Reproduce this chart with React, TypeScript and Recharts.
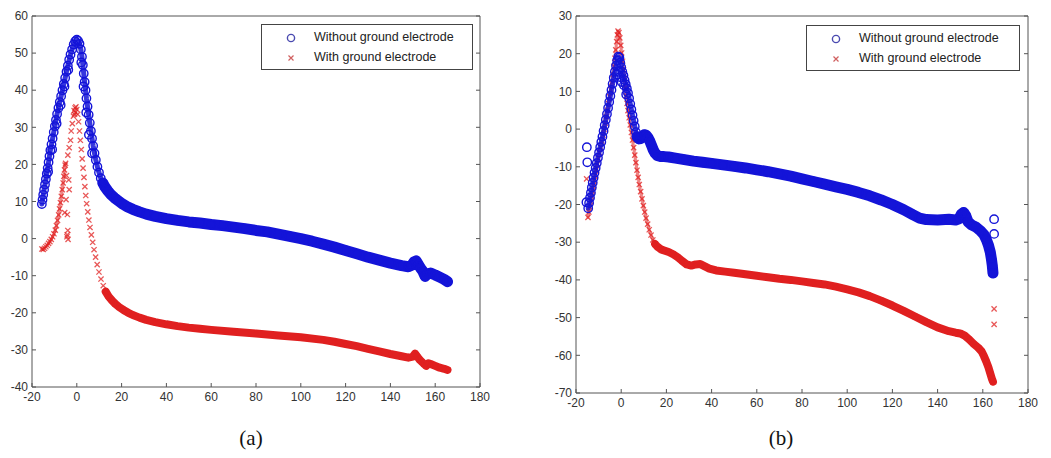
import React from 'react';
import { ScatterChart, Scatter, XAxis, YAxis } from 'recharts';

type Pt = [number, number];

const X_TICKS = [-20, 0, 20, 40, 60, 80, 100, 120, 140, 160, 180];
const A_Y_TICKS = [-40, -30, -20, -10, 0, 10, 20, 30, 40, 50, 60];
const B_Y_TICKS = [-70, -60, -50, -40, -30, -20, -10, 0, 10, 20, 30];

const LEGEND_LABELS = ['Without ground electrode', 'With ground electrode'];
const PANEL_LABELS = ['(a)', '(b)'];

// ---- panel (a) ----
const aWithoutPeak: Pt[] = [
  [-15.6, 9.3], [-15.3, 10.5], [-15.0, 11.8], [-14.6, 13.2], [-14.2, 14.6], [-13.8, 16.0], [-13.4, 17.5],
  [-13.0, 19.0], [-12.6, 20.6], [-12.2, 22.2], [-11.8, 23.8], [-11.3, 25.4], [-10.8, 27.0], [-10.3, 28.7],
  [-9.8, 30.3], [-9.3, 32.0], [-8.8, 33.6], [-8.2, 35.2], [-7.6, 36.8], [-7.0, 38.4], [-6.4, 40.0],
  [-5.8, 41.7], [-5.2, 43.3], [-4.6, 45.0], [-4.0, 46.6], [-3.4, 48.2], [-2.8, 49.6], [-2.1, 51.0],
  [-1.4, 52.3], [-0.7, 53.2], [0.0, 53.6], [0.6, 53.3], [1.2, 52.5], [1.8, 51.0], [2.3, 49.0],
  [2.7, 46.8], [3.1, 44.5], [3.5, 42.2], [3.9, 40.0], [4.3, 37.8], [4.8, 35.6], [5.3, 33.4],
  [5.8, 31.2], [6.3, 29.0], [6.8, 27.0], [7.3, 25.0], [7.9, 23.0], [8.5, 21.2], [9.2, 19.4],
  [9.9, 17.8], [10.7, 16.3], [11.6, 15.0],
];
const aWithoutLoose: Pt[] = [
  [-12.8, 18.0], [-11.0, 24.0], [-9.0, 31.0], [-7.2, 36.0], [-5.5, 41.0], [-3.8, 45.5],
  [2.0, 47.5], [3.0, 41.0], [4.2, 34.0], [5.4, 28.0], [6.8, 23.0],
];
const aWithoutTail: Pt[] = [
  [11.6, 15.0], [12.6, 13.9], [13.8, 12.9], [15.2, 11.9], [16.8, 11.0], [18.5, 10.2], [20.5, 9.3],
  [22.5, 8.6], [25, 7.9], [28, 7.2], [31, 6.6], [35, 6.0], [40, 5.4], [45, 4.9], [50, 4.5], [55, 4.2],
  [60, 3.8], [65, 3.5], [70, 3.1], [75, 2.7], [80, 2.2], [85, 1.8], [90, 1.2], [95, 0.6], [100, 0.0],
  [105, -0.7], [110, -1.5], [115, -2.3], [120, -3.2], [125, -4.1], [130, -5.0], [135, -5.8], [140, -6.6],
  [145, -7.3], [148, -7.6], [149.5, -7.2], [150.5, -6.3], [151.5, -6.0], [152.5, -7.0], [153.5, -8.0],
  [154.5, -8.8], [155.5, -10.2], [156.5, -9.5], [158, -9.3], [160, -9.8], [162, -10.4], [164, -11.0],
  [165.5, -11.6],
];
const aWithPeak: Pt[] = [
  [-15.6, -2.8], [-15.0, -2.9], [-14.4, -2.6], [-13.8, -2.2], [-13.2, -1.8], [-12.6, -1.3], [-12.0, -0.8],
  [-11.4, -0.2], [-10.8, 0.5], [-10.2, 1.3], [-9.6, 2.3], [-9.1, 3.5], [-8.6, 4.9], [-8.1, 6.4],
  [-7.7, 8.0], [-7.3, 9.7], [-6.9, 11.4], [-6.5, 13.2], [-6.1, 15.0], [-5.8, 16.8], [-5.5, 18.5],
  [-5.2, 19.8], [-5.0, 20.3],
];
const aWithLoose: Pt[] = [
  [-4.6, 17.0], [-3.6, 15.8], [-3.4, 13.2], [-4.8, 10.5], [-5.4, 7.0], [-4.2, 6.5], [-4.0, 2.2],
  [-4.3, 1.0], [-3.9, -0.2], [-4.4, 0.5], [-4.0, 22.5], [-3.4, 24.5], [-2.8, 26.5], [-2.5, 29.0],
  [-2.0, 31.0], [-1.5, 33.0], [-1.2, 34.5], [-0.8, 35.2], [-0.4, 35.5], [0.0, 34.8], [-0.6, 34.0],
  [-1.0, 33.5],
  [0.4, 33.5], [0.8, 31.5], [1.2, 29.0], [1.6, 26.5], [2.0, 24.0], [2.4, 21.5], [2.8, 19.0],
  [3.2, 16.5], [3.6, 14.0], [4.0, 11.6], [4.4, 9.4], [4.9, 7.2], [5.4, 5.0], [5.9, 3.0], [6.5, 1.0],
  [7.1, -1.0], [7.7, -3.0], [8.4, -5.0], [9.1, -7.0], [9.9, -9.0], [10.8, -10.9], [11.8, -12.7],
  [12.9, -14.3],
];
const aWithTail: Pt[] = [
  [12.9, -14.3], [14.2, -15.6], [15.6, -16.6], [17.2, -17.6], [19, -18.5], [21, -19.3], [23, -20.0],
  [25, -20.6], [28, -21.3], [31, -21.9], [35, -22.5], [40, -23.1], [45, -23.6], [50, -24.0], [55, -24.3],
  [60, -24.6], [70, -25.1], [80, -25.6], [90, -26.1], [100, -26.6], [110, -27.3], [115, -27.8],
  [120, -28.4], [125, -29.0], [130, -29.7], [135, -30.4], [140, -31.1], [145, -31.7], [148, -32.1],
  [150, -31.8], [151, -31.0], [152, -31.8], [153, -32.6], [154, -33.2], [155, -33.8], [156, -34.3],
  [157, -33.6], [158, -33.8], [160, -34.3], [162, -34.8], [164, -35.1], [165.5, -35.4],
];

// ---- panel (b) ----
const bWithoutPeak: Pt[] = [
  [-14.6, -21.0], [-14.2, -19.6], [-13.8, -18.2], [-13.4, -16.9], [-13.0, -15.5], [-12.6, -14.2],
  [-12.2, -12.9], [-11.8, -11.6], [-11.3, -10.3], [-10.8, -9.0], [-10.3, -7.6], [-9.8, -6.2],
  [-9.3, -4.8], [-8.8, -3.4], [-8.3, -2.0], [-7.8, -0.5], [-7.3, 1.0], [-6.8, 2.5], [-6.3, 4.0],
  [-5.8, 5.6], [-5.3, 7.2], [-4.8, 8.8], [-4.3, 10.4], [-3.8, 12.0], [-3.3, 13.6], [-2.8, 15.2],
  [-2.3, 16.8], [-1.8, 18.2], [-1.3, 19.2], [-0.8, 19.0], [-0.4, 17.6], [0.0, 16.4], [0.5, 15.2],
  [1.0, 14.2], [1.5, 13.0], [2.0, 11.9], [2.5, 10.8], [3.0, 9.6], [3.5, 8.2], [4.0, 6.7], [4.5, 5.2],
  [5.0, 3.7], [5.5, 2.2], [6.0, 0.7], [6.5, -0.8], [7.0, -2.0],
];
const bWithoutLoose: Pt[] = [
  [-15.2, -4.8], [-15.0, -8.8], [-15.4, -19.4],
  [-2.0, 14.5], [-1.2, 15.2], [-0.6, 13.8], [0.2, 12.5], [1.2, 11.6], [2.2, 9.2],
  [165, -23.9], [165, -27.8],
];
const bWithoutTail: Pt[] = [
  [7.0, -2.0], [7.8, -2.6], [8.6, -2.5], [9.4, -1.9], [10.2, -1.5], [11.0, -1.6], [11.8, -2.2],
  [12.6, -3.1], [13.4, -4.3], [14.2, -5.5], [15.0, -6.4], [16.0, -7.0], [17.5, -7.3], [19, -7.3],
  [21, -7.4], [24, -7.7], [28, -8.1], [32, -8.5], [36, -8.8], [40, -9.1], [45, -9.5], [50, -9.9],
  [55, -10.3], [60, -10.8], [65, -11.3], [70, -11.9], [75, -12.5], [80, -13.2], [85, -13.9],
  [90, -14.6], [95, -15.3], [100, -16.0], [105, -16.8], [110, -17.7], [115, -18.8], [120, -20.0],
  [125, -21.4], [129, -22.7], [132, -23.6], [135, -24.0], [140, -24.1], [145, -23.9], [148, -24.1],
  [149.5, -23.8], [150.5, -22.6], [151.5, -22.1], [152.5, -23.0], [153.5, -24.6], [155, -25.4],
  [157, -26.0], [159, -27.0], [160.5, -28.0], [161.5, -29.2], [162.5, -30.8], [163.3, -32.6],
  [163.8, -34.4], [164.2, -36.2], [164.5, -38.2],
];
const bWithPeak: Pt[] = [
  [-14.7, -23.4], [-14.3, -22.0], [-13.9, -20.6], [-13.5, -19.2], [-13.1, -17.8], [-12.7, -16.4],
  [-12.3, -15.0], [-11.9, -13.6], [-11.5, -12.2], [-11.1, -10.8], [-10.6, -9.3], [-10.1, -7.8],
  [-9.6, -6.3], [-9.1, -4.8], [-8.6, -3.2], [-8.1, -1.6], [-7.6, 0.0], [-7.1, 1.6], [-6.6, 3.3],
  [-6.1, 5.0], [-5.6, 6.8], [-5.1, 8.6], [-4.6, 10.5], [-4.1, 12.4], [-3.6, 14.5], [-3.2, 16.6],
  [-2.8, 18.8], [-2.4, 21.0], [-2.0, 23.2], [-1.7, 25.0], [-1.4, 26.0], [-1.0, 25.6], [-0.6, 24.2],
  [-0.2, 22.2], [0.2, 20.2], [0.6, 18.0], [1.0, 15.7], [1.4, 13.4], [1.8, 11.0], [2.2, 8.8],
  [2.6, 6.8], [3.0, 4.9], [3.5, 3.0], [4.0, 1.1], [4.5, -0.9], [5.0, -2.9], [5.5, -4.9], [6.0, -6.9],
  [6.5, -8.9], [7.0, -10.9], [7.5, -12.8], [8.0, -14.7], [8.6, -16.6], [9.2, -18.5], [9.8, -20.3],
  [10.4, -22.0], [11.0, -23.6], [11.7, -25.2], [12.4, -26.7], [13.2, -28.1], [14.0, -29.4], [15.0, -30.5],
];
const bWithLoose: Pt[] = [[-15.3, -13.2], [165, -47.7], [165, -51.8]];
const bWithTail: Pt[] = [
  [15.0, -30.5], [16.2, -31.3], [17.6, -31.9], [19, -32.2], [21, -32.6], [23, -33.2], [25, -34.0],
  [27, -35.0], [29, -35.9], [31, -36.2], [33, -35.9], [35, -35.8], [37, -36.4], [39, -37.0], [42, -37.5],
  [46, -37.8], [50, -38.1], [55, -38.5], [60, -38.9], [65, -39.3], [70, -39.7], [75, -40.0], [80, -40.4],
  [85, -40.8], [90, -41.2], [95, -41.8], [100, -42.5], [105, -43.3], [110, -44.3], [115, -45.5],
  [120, -46.8], [125, -48.2], [130, -49.7], [135, -51.2], [140, -52.6], [145, -53.6], [148, -54.0],
  [150, -54.2], [152, -54.8], [154, -55.8], [156, -57.0], [158, -58.0], [159.5, -59.0], [160.5, -60.2],
  [161.5, -61.6], [162.5, -63.2], [163.3, -64.8], [164, -66.2], [164.5, -67.0],
];

const BLUE = '#1414d8';
const RED = '#e02020';
const AXIS = '#555';
const FONT = '"Liberation Sans", Arial, sans-serif';

const toObj = (pts: Pt[]) => pts.map(([x, y]) => ({ x, y }));

const Ring = (props: any) => (
  <circle cx={props.cx} cy={props.cy} r={4.2} fill="none" stroke={BLUE} strokeWidth={1.4} />
);
const Cross = (props: any) => {
  const { cx, cy } = props;
  const s = 2.6;
  return (
    <path
      d={`M${cx - s},${cy - s}L${cx + s},${cy + s}M${cx - s},${cy + s}L${cx + s},${cy - s}`}
      stroke={RED}
      strokeWidth={1.3}
      strokeOpacity={0.75}
    />
  );
};

const band = (color: string, w: number, op = 1) => ({
  stroke: color,
  strokeWidth: w,
  strokeOpacity: op,
  strokeLinejoin: 'round' as const,
  strokeLinecap: 'round' as const,
});

interface PanelProps {
  left: number;
  width: number;
  height: number;
  margin: { top: number; right: number; bottom: number; left: number };
  xHeight: number;
  yDomain: [number, number];
  yTicks: number[];
  withoutPeak: Pt[];
  withoutLoose: Pt[];
  withoutTail: Pt[];
  withPeak: Pt[];
  withLoose: Pt[];
  withTail: Pt[];
  legend: { left: number; top: number; width: number };
  label: string;
  labelX: number;
}

const tickStyle = { fontSize: 12, fill: '#333', fontFamily: FONT };

const Panel = (p: PanelProps) => (
  <>
    <div style={{ position: 'absolute', left: p.left, top: 0 }}>
      <ScatterChart width={p.width} height={p.height} margin={p.margin}>
        <XAxis
          type="number"
          dataKey="x"
          domain={[-20, 180]}
          ticks={X_TICKS}
          interval={0}
          allowDataOverflow
          height={p.xHeight}
          tickSize={-4}
          tickMargin={9}
          tick={tickStyle}
          stroke={AXIS}
        />
        <XAxis
          xAxisId="top"
          orientation="top"
          type="number"
          domain={[-20, 180]}
          ticks={X_TICKS}
          interval={0}
          allowDataOverflow
          height={1}
          tickSize={-4}
          tickFormatter={() => ''}
          stroke={AXIS}
        />
        <YAxis
          type="number"
          dataKey="y"
          domain={p.yDomain}
          ticks={p.yTicks}
          interval={0}
          allowDataOverflow
          width={30}
          tickSize={-4}
          tickMargin={8}
          tick={tickStyle}
          stroke={AXIS}
        />
        <YAxis
          yAxisId="right"
          orientation="right"
          type="number"
          domain={p.yDomain}
          ticks={p.yTicks}
          interval={0}
          allowDataOverflow
          width={1}
          tickSize={-4}
          tickFormatter={() => ''}
          stroke={AXIS}
        />
        <Scatter data={toObj(p.withTail)} fill={RED} line={band(RED, 8)} shape={Cross} isAnimationActive={false} />
        <Scatter data={toObj(p.withPeak)} fill={RED} line={band(RED, 3, 0.55)} shape={Cross} isAnimationActive={false} />
        <Scatter data={toObj(p.withLoose)} fill={RED} shape={Cross} isAnimationActive={false} />
        <Scatter data={toObj(p.withoutTail)} fill={BLUE} line={band(BLUE, 11)} shape={Ring} isAnimationActive={false} />
        <Scatter data={toObj(p.withoutPeak)} fill={BLUE} line={band(BLUE, 5, 0.85)} shape={Ring} isAnimationActive={false} />
        <Scatter data={toObj(p.withoutLoose)} fill={BLUE} shape={Ring} isAnimationActive={false} />
      </ScatterChart>
    </div>
    <div
      style={{
        position: 'absolute',
        left: p.legend.left,
        top: p.legend.top,
        width: p.legend.width,
        height: 44,
        border: '1px solid #444',
        background: '#fff',
        fontFamily: FONT,
        fontSize: 12.5,
        color: '#222',
      }}
    >
      {LEGEND_LABELS.map((t, i) => (
        <div key={t} style={{ position: 'absolute', left: 0, top: 4 + i * 20, height: 18, width: '100%' }}>
          <svg width={20} height={18} style={{ position: 'absolute', left: 19, top: 0 }}>
            {i === 0 ? (
              <circle cx={10} cy={9} r={3.6} fill="none" stroke="#4a4ab0" strokeWidth={1.4} />
            ) : (
              <path d="M7.5,6.5L12.5,11.5M7.5,11.5L12.5,6.5" stroke="#d06060" strokeWidth={1.2} />
            )}
          </svg>
          <span style={{ position: 'absolute', left: 52, top: 1, whiteSpace: 'nowrap' }}>{t}</span>
        </div>
      ))}
    </div>
    <div
      style={{
        position: 'absolute',
        left: p.labelX - 30,
        width: 60,
        top: 426,
        textAlign: 'center',
        fontFamily: '"Liberation Serif", "Times New Roman", serif',
        fontSize: 21,
        color: '#111',
      }}
    >
      {p.label}
    </div>
  </>
);

const App = () => (
  <div style={{ position: 'absolute', left: 0, top: 0, width: 1051, height: 458, background: '#fff' }}>
    <Panel
      left={0}
      width={520}
      height={420}
      margin={{ top: 15, right: 39, bottom: 3, left: 2 }}
      xHeight={30}
      yDomain={[-40, 60]}
      yTicks={A_Y_TICKS}
      withoutPeak={aWithoutPeak}
      withoutLoose={aWithoutLoose}
      withoutTail={aWithoutTail}
      withPeak={aWithPeak}
      withLoose={aWithLoose}
      withTail={aWithTail}
      legend={{ left: 261, top: 24, width: 210 }}
      label={PANEL_LABELS[0]}
      labelX={251}
    />
    <Panel
      left={525}
      width={526}
      height={420}
      margin={{ top: 15, right: 22, bottom: 2, left: 21 }}
      xHeight={25}
      yDomain={[-70, 30]}
      yTicks={B_Y_TICKS}
      withoutPeak={bWithoutPeak}
      withoutLoose={bWithoutLoose}
      withoutTail={bWithoutTail}
      withPeak={bWithPeak}
      withLoose={bWithLoose}
      withTail={bWithTail}
      legend={{ left: 806, top: 25, width: 212 }}
      label={PANEL_LABELS[1]}
      labelX={781}
    />
  </div>
);

export default App;
